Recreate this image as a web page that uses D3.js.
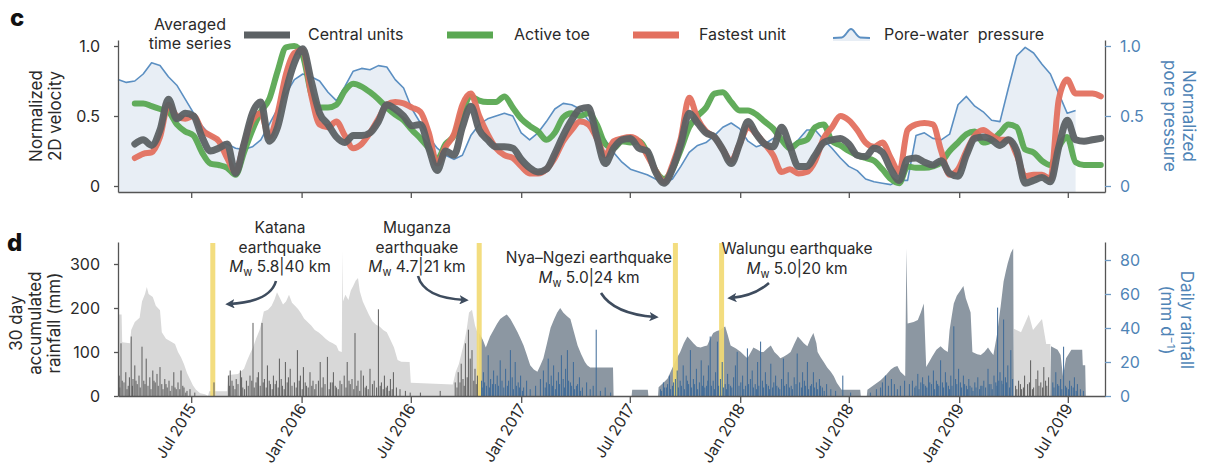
<!DOCTYPE html>
<html>
<head>
<meta charset="utf-8">
<script src="https://cdn.jsdelivr.net/npm/d3@7"></script>
<style>
  body { margin: 0; background: #fff; }
  svg { font-family: Inter, "Noto Sans", "DejaVu Sans", sans-serif; }
</style>
</head>
<body>
<svg id="chart" width="1205" height="471"></svg>
<script>
// ---------- data ----------
// Record starts 1 March 2015; velocity / pore-pressure samples every 14 days.
const recordStart = Date.UTC(2015, 2, 1);
const sampleStepDays = 14;

const tickDates = ["2015-07-01", "2016-01-01", "2016-07-01", "2017-01-01", "2017-07-01",
                   "2018-01-01", "2018-07-01", "2019-01-01", "2019-07-01"];
const tickLabels = ["Jul 2015", "Jan 2016", "Jul 2016", "Jan 2017", "Jul 2017",
                    "Jan 2018", "Jul 2018", "Jan 2019", "Jul 2019"];

// Normalized pore-water pressure
const porePressure = [0.76,0.74,0.75,0.80,0.88,0.86,0.78,0.72,0.62,0.52,0.43,0.36,0.32,0.30,0.27,0.26,0.28,0.33,0.44,0.55,0.66,0.76,0.80,0.78,0.75,0.67,0.61,0.71,0.82,0.84,
  0.83,0.86,0.85,0.76,0.70,0.55,0.45,0.35,0.27,0.22,0.19,0.22,0.36,0.44,0.48,0.50,0.52,0.50,0.38,0.33,0.38,0.46,0.55,0.59,0.58,0.55,0.47,0.40,0.33,
  0.24,0.17,0.12,0.10,0.08,0.05,0.02,0.05,0.14,0.24,0.29,0.31,0.36,0.42,0.45,0.41,0.32,0.28,0.30,0.34,0.33,0.28,0.33,0.40,0.40,0.33,0.27,0.20,0.14,
  0.11,0.05,0.03,0.02,0.01,0.04,0.04,0.36,0.38,0.34,0.33,0.37,0.58,0.64,0.57,0.53,0.47,0.46,0.70,0.93,0.99,0.95,0.87,0.80,0.66,0.52,0.54,null,null,null];

// Normalized 2D velocity, fastest unit
const fastestUnit = [null,null,0.20,0.23,0.24,0.35,0.58,0.50,0.48,0.50,0.40,0.36,0.32,0.20,0.10,0.30,0.47,0.52,0.35,0.52,0.80,0.95,0.97,0.65,0.44,0.42,0.46,0.36,0.27,0.30,
  0.38,0.48,0.58,0.60,0.59,0.56,0.53,0.38,0.16,0.28,0.37,0.58,0.66,0.50,0.37,0.27,0.22,0.20,0.14,0.09,0.09,0.12,0.20,0.32,0.40,0.46,0.44,0.34,0.22,
  0.32,0.34,0.35,0.32,0.22,0.11,0.03,0.15,0.34,0.63,0.48,0.39,0.35,0.26,0.18,0.30,0.42,0.37,0.30,0.22,0.10,0.12,0.09,0.10,0.18,0.34,0.42,0.50,0.47,
  0.40,0.31,0.28,0.31,0.20,0.10,0.40,0.44,0.45,0.44,0.25,0.08,0.12,0.25,0.36,0.40,0.36,0.33,0.33,0.22,0.07,0.08,0.08,0.05,0.62,0.76,0.66,0.66,0.66,0.64];

// Normalized 2D velocity, active toe
const activeToe = [null,null,0.59,0.59,0.57,0.55,0.53,0.44,0.39,0.36,0.24,0.16,0.15,0.13,0.08,0.24,0.40,0.53,0.62,0.82,0.99,1.00,0.93,0.66,0.56,0.56,0.58,0.68,0.73,0.71,
  0.67,0.62,0.56,0.51,0.47,0.40,0.34,0.27,0.19,0.30,0.36,0.53,0.64,0.61,0.60,0.60,0.64,0.56,0.48,0.43,0.39,0.33,0.38,0.49,0.52,0.50,0.52,0.44,0.30,
  0.27,0.32,0.31,0.32,0.24,0.11,0.05,0.12,0.26,0.42,0.50,0.56,0.66,0.67,0.60,0.54,0.54,0.51,0.46,0.41,0.33,0.27,0.31,0.33,0.42,0.44,0.32,0.29,0.25,
  0.22,0.20,0.18,0.12,0.05,0.02,0.14,0.13,0.13,0.14,0.17,0.25,0.31,0.37,0.39,0.31,0.33,0.38,0.44,0.42,0.26,0.24,0.18,0.15,0.28,0.35,0.17,0.15,0.15,0.15];

// Normalized 2D velocity, central units
const centralUnits = [null,null,0.30,0.33,0.29,0.40,0.62,0.48,0.52,0.50,0.35,0.25,0.27,0.30,0.09,0.30,0.52,0.60,0.32,0.42,0.68,0.88,0.98,0.75,0.52,0.44,0.35,0.31,0.36,0.36,
  0.38,0.46,0.58,0.55,0.50,0.43,0.44,0.27,0.11,0.25,0.22,0.42,0.57,0.40,0.33,0.28,0.28,0.27,0.19,0.13,0.10,0.12,0.23,0.36,0.47,0.55,0.56,0.35,0.16,
  0.27,0.33,0.34,0.27,0.25,0.10,0.02,0.12,0.30,0.52,0.45,0.38,0.35,0.26,0.16,0.30,0.46,0.37,0.30,0.28,0.42,0.28,0.14,0.14,0.22,0.31,0.33,0.34,0.30,
  0.22,0.21,0.27,0.24,0.12,0.04,0.19,0.20,0.17,0.15,0.18,0.09,0.07,0.22,0.34,0.35,0.33,0.29,0.33,0.25,0.02,0.04,0.06,0.03,0.28,0.47,0.33,0.32,0.33,0.34];

// 30-day accumulated rainfall [day of record, mm], gauge A (light) and gauge B (slate)
const accumGaugeA = [[0,185],[6,185],[7,122],[20,120],[22,150],[28,168],[36,178],[40,215],[45,232],[48,248],[51,232],[58,225],[63,205],[70,195],[73,145],[80,130],[88,124],[95,118],[100,100],[105,88],[110,72],[115,52],[120,38],[125,24],[130,14],[137,6],[145,4],[150,0],
  [152,11],[182,11],[184,48],[200,50],[210,62],[215,80],[220,96],[225,110],[230,130],[236,150],[240,172],[243,192],[250,196],[256,205],[261,220],[265,236],[270,222],[275,208],[280,215],[285,230],[290,212],[295,205],[300,198],[305,188],[310,176],[316,168],[322,160],[328,150],[334,145],[340,138],[346,130],[352,124],[358,120],[364,115],[368,102],[373,100],[374,330],[375,215],[379,230],[384,218],[388,240],[392,250],[396,262],[400,268],[403,238],[408,215],[413,200],[418,185],[424,170],[430,162],[436,158],[442,150],[448,145],[454,128],[460,110],[466,82],[472,78],[486,77],[488,30],[558,26],[563,55],[568,72],[573,100],[577,122],[581,150],[585,190],[590,196],[595,160],[600,140],[602,0],
  [1492,0],[1493,153],[1505,145],[1518,185],[1525,150],[1540,175],[1547,118],[1554,118],[1555,0]];

const accumGaugeB = [[601,0],[602,143],[608,128],[613,110],[620,135],[626,150],[632,165],[637,175],[642,180],[648,185],[654,175],[660,160],[666,145],[671,130],[676,115],[681,95],[687,70],[693,60],[699,55],[704,70],[709,86],[715,120],[721,155],[727,175],[732,190],[737,200],[742,190],[748,182],[754,175],[760,145],[766,115],[772,95],[778,78],[782,70],[787,65],[825,65],[826,0],
  [856,0],[857,14],[883,14],[884,0],
  [900,0],[901,20],[905,25],[909,30],[916,40],[921,55],[926,70],[931,85],[937,100],[943,120],[949,135],[954,128],[959,120],[965,112],[971,110],[977,113],[982,115],[987,130],[992,143],[998,148],[1004,150],[1008,155],[1012,158],[1016,140],[1021,115],[1030,108],[1038,100],[1044,92],[1049,86],[1054,98],[1059,110],[1066,105],[1072,100],[1076,100],[1082,108],[1088,115],[1094,100],[1100,92],[1104,86],[1110,90],[1116,95],[1121,100],[1127,118],[1133,135],[1138,128],[1143,120],[1149,113],[1154,130],[1159,143],[1164,120],[1166,100],[1171,88],[1176,78],[1182,65],[1188,55],[1193,45],[1198,30],[1204,18],[1206,14],[1237,14],[1238,0],
  [1248,0],[1249,14],[1271,36],[1280,48],[1288,60],[1294,66],[1299,68],[1304,55],[1312,45],[1314,335],[1316,165],[1326,168],[1333,173],[1338,190],[1343,210],[1347,66],[1353,80],[1357,90],[1364,105],[1371,113],[1377,105],[1383,100],[1386,150],[1390,185],[1393,210],[1398,228],[1404,240],[1409,250],[1413,222],[1416,210],[1421,190],[1424,100],[1432,95],[1438,93],[1444,100],[1450,110],[1455,100],[1459,93],[1465,140],[1471,203],[1476,260],[1480,285],[1483,302],[1488,325],[1492,335],[1493,0],
  [1554,0],[1555,113],[1566,105],[1571,93],[1575,45],[1580,86],[1589,105],[1607,105],[1608,70],[1612,70],[1613,0]];

// Daily rainfall [day of record, mm/day]
const dailyGaugeA = [[2,12],[5,31],[10,8],[13,14],[17,6],[22,35],[25,10],[28,18],[32,7],[35,12],[40,29],[43,9],[47,22],[50,6],[53,11],[58,15],[62,8],[65,13],[70,17],[73,7],[78,10],[82,5],[85,9],[90,6],[93,14],[97,4],[100,8],[105,15],[110,5],[115,3],[120,4],[128,2],
  [3,5],[7,9],[15,4],[19,11],[24,6],[30,9],[37,5],[45,7],[55,4],[60,9],[67,6],[75,4],[80,7],[87,3],[95,5],[103,4],[108,6],[113,2],
  [160,8],
  [184,12],[187,15],[192,6],[197,10],[204,15],[208,5],[214,9],[220,12],[225,43],[230,8],[234,14],[240,43],[244,10],[249,18],[254,7],[259,12],[264,9],[269,22],[274,6],[279,20],[284,11],[287,16],[294,8],[299,27],[304,12],[309,17],[314,6],[320,14],[325,9],[330,7],[337,20],[342,11],[349,23],[354,8],[359,14],[364,5],[370,9],[377,12],[382,20],[387,7],[390,10],[395,37],[400,9],[405,15],[409,12],[414,6],[420,16],[427,9],[434,51],[439,8],[444,12],[449,6],[454,10],[459,14],[464,5],[470,4],[479,3],[487,2],[504,2],[537,3],[562,8],[567,14],[572,19],[575,10],[579,31],[584,39],[587,22],[590,27],[595,16],[599,12],
  [186,6],[190,9],[195,4],[200,7],[206,11],[211,4],[217,6],[223,9],[227,5],[232,11],[237,6],[242,8],[247,5],[252,9],[257,4],[262,7],[267,5],[272,10],[277,4],[282,8],[290,6],[297,5],[302,9],[307,4],[312,8],[317,5],[323,6],[328,4],[334,9],[340,5],[345,7],[352,4],[357,8],[362,6],[367,4],[373,7],[380,5],[385,9],[393,4],[398,6],[403,3],[412,5],[417,4],[424,7],[431,5],[437,6],[442,4],[447,5],[452,3],[457,4],[565,5],[570,8],[577,6],[582,11],[593,9],[597,7],
  [1496,6],[1501,9],[1506,4],[1511,12],[1516,7],[1521,21],[1526,5],[1530,10],[1533,15],[1538,8],[1543,17],[1548,6],[1551,11],[1498,4],[1504,7],[1509,5],[1519,8],[1524,4],[1535,6],[1541,5],[1546,9]];

const dailyGaugeB = [[606,9],[609,14],[614,6],[617,24],[621,10],[626,15],[629,7],[632,12],[637,21],[640,9],[646,16],[649,6],[654,27],[657,11],[662,20],[667,8],[671,12],[676,5],[681,9],[687,4],[696,6],[704,10],[709,15],[714,8],[717,22],[722,12],[726,18],[731,9],[734,14],[739,24],[742,10],[746,16],[749,27],[754,8],[759,20],[764,6],[769,11],[774,5],[781,8],[787,4],[792,6],[797,39],[804,3],[812,5],[821,2],
  [607,5],[611,8],[619,5],[624,7],[634,6],[643,5],[651,9],[659,4],[664,6],[669,5],[674,3],[712,5],[719,7],[724,6],[729,4],[736,7],[744,5],[751,9],[756,6],[761,4],[766,7],[771,3],
  [904,4],[909,8],[914,5],[919,12],[924,6],[929,10],[932,15],[937,9],[942,18],[947,12],[951,7],[954,27],[959,10],[964,16],[969,8],[972,21],[976,12],[981,6],[984,18],[987,35],[992,9],[996,14],[999,32],[1004,10],[1007,20],[1012,7],[1016,13],[1021,6],[1026,11],[1029,18],[1032,26],[1038,8],[1041,12],[1046,6],[1049,28],[1054,10],[1057,15],[1062,7],[1066,20],[1071,32],[1074,9],[1079,14],[1084,6],[1088,19],[1093,8],[1096,12],[1101,5],[1106,10],[1109,22],[1114,7],[1117,14],[1122,6],[1127,11],[1132,25],[1136,8],[1141,14],[1144,9],[1149,20],[1154,6],[1159,14],[1164,8],[1169,10],[1174,5],[1181,7],[1188,4],[1196,3],[1208,12],[1221,2],
  [906,3],[911,5],[916,7],[921,4],[926,8],[934,5],[939,6],[944,4],[949,9],[956,5],[961,7],[966,4],[974,6],[978,5],[983,9],[989,6],[994,4],[1001,6],[1009,5],[1014,4],[1018,7],[1023,5],[1035,6],[1043,4],[1051,7],[1059,5],[1064,4],[1068,6],[1076,5],[1081,7],[1086,4],[1091,5],[1098,6],[1103,4],[1111,6],[1119,5],[1124,4],[1130,7],[1139,5],[1146,6],[1151,4],[1156,7],[1161,5],[1166,4],[1171,6],[1177,3],
  [1254,2],[1264,4],[1271,5],[1274,8],[1279,12],[1284,6],[1289,10],[1294,7],[1299,4],[1304,6],[1311,9],[1319,7],[1324,9],[1328,5],[1333,13],[1338,8],[1341,11],[1346,6],[1351,12],[1356,7],[1359,15],[1364,9],[1368,6],[1371,21],[1374,8],[1379,14],[1384,6],[1388,12],[1393,41],[1396,10],[1401,16],[1404,8],[1409,12],[1414,6],[1418,10],[1423,5],[1428,8],[1433,11],[1438,6],[1443,9],[1450,16],[1455,7],[1460,12],[1463,8],[1466,52],[1470,14],[1473,9],[1476,45],[1479,11],[1483,18],[1488,27],[1491,10],
  [1330,6],[1335,4],[1343,7],[1348,5],[1353,8],[1361,4],[1366,7],[1376,5],[1381,8],[1386,4],[1390,6],[1398,7],[1406,5],[1411,7],[1416,4],[1420,6],[1425,3],[1430,5],[1436,4],[1440,6],[1446,5],[1452,7],[1457,4],[1465,6],[1468,9],[1475,7],[1481,8],[1486,5],
  [1558,8],[1563,14],[1568,6],[1571,10],[1576,29],[1581,5],[1586,9],[1589,6],[1594,11],[1599,7],[1604,4],[1609,3],[1560,5],[1566,7],[1573,4],[1579,6],[1584,4],[1592,5],[1597,3]];

// Earthquakes
const quakeNames = ["Katana", "Muganza", "Nya–Ngezi", "Walungu"];
const quakeDates = ["2015-08-06", "2016-10-23", "2017-09-15", "2017-12-01"];
const quakeMagnitudes = ["5.8", "4.7", "5.0", "5.0"];
const quakeDistances = ["40", "21", "24", "20"];

// ---------- helpers ----------
const parseDate = s => new Date(s + "T00:00:00Z");
const dayToDate = d => new Date(recordStart + d * 86400000);
const sampleDate = i => dayToDate(i * sampleStepDays);

const svg = d3.select("#chart");

const x = d3.scaleUtc()
  .domain([new Date(recordStart), new Date(Date.UTC(2019, 8, 1))])
  .range([118, 1105]);

const axisColor = "#555";
const textColor = "#2a2a2a";
const blueText = "#4f84b6";

function styleAxis(g, tickColor, labelColor) {
  g.select(".domain").attr("stroke", axisColor).attr("stroke-width", 1.3);
  g.selectAll(".tick line").attr("stroke", tickColor).attr("stroke-width", 1.3);
  g.selectAll(".tick text").attr("fill", labelColor).attr("font-size", 16)
    .attr("font-family", "Inter, 'Noto Sans', sans-serif");
}

// ================= panel c =================
const yVel = d3.scaleLinear().domain([-6 / 140, 1 + 6 / 140]).range([192, 40]);
const yPore = yVel.copy();

const porePts = porePressure.map((v, i) => ({ date: sampleDate(i), v }));

// pore-pressure shading
svg.append("path")
  .datum(porePts)
  .attr("fill", "#e8eef5")
  .attr("d", d3.area().defined(d => d.v != null)
    .x(d => x(d.date)).y0(192).y1(d => yPore(d.v))
    .curve(d3.curveLinear));

svg.append("path")
  .datum(porePts)
  .attr("fill", "none")
  .attr("stroke", "#5b8fc2")
  .attr("stroke-width", 1.6)
  .attr("stroke-linejoin", "round")
  .attr("d", d3.line().defined(d => d.v != null)
    .x(d => x(d.date)).y(d => yPore(d.v))
    .curve(d3.curveLinear));

const velSeries = [
  { values: activeToe, color: "#5aa852", width: 6 },
  { values: fastestUnit, color: "#e3705f", width: 6 },
  { values: centralUnits, color: "#5c6164", width: 7 }
];
velSeries.forEach(s => {
  const pts = s.values.map((v, i) => ({ date: sampleDate(i), v }));
  svg.append("path")
    .datum(pts)
    .attr("fill", "none")
    .attr("stroke", s.color)
    .attr("stroke-width", s.width)
    .attr("stroke-linejoin", "round")
    .attr("stroke-linecap", "round")
    .attr("opacity", 0.95)
    .attr("d", d3.line().defined(d => d.v != null)
      .x(d => x(d.date)).y(d => yVel(d.v))
      .curve(d3.curveMonotoneX));
});

// axes of panel c
const fmtNorm = d => d === 0 ? "0" : d3.format(".1f")(d);
svg.append("g").attr("transform", "translate(118,0)")
  .call(d3.axisLeft(yVel).tickValues([0, 0.5, 1]).tickFormat(fmtNorm)
    .tickSize(4).tickPadding(14).tickSizeOuter(0))
  .call(g => styleAxis(g, axisColor, textColor));

svg.append("g").attr("transform", "translate(1105,0)")
  .call(d3.axisRight(yPore).tickValues([0, 0.5, 1]).tickFormat(fmtNorm)
    .tickSize(6).tickPadding(9).tickSizeOuter(0))
  .call(g => styleAxis(g, "#6f9ac4", blueText));

svg.append("g").attr("transform", "translate(0,192)")
  .call(d3.axisBottom(x).tickValues(tickDates.map(parseDate)).tickFormat("")
    .tickSize(6).tickSizeOuter(0))
  .call(g => styleAxis(g, axisColor, textColor));

// legend
const legend = svg.append("g").attr("font-size", 16).attr("fill", textColor);
legend.append("text").attr("x", 190).attr("y", 30).attr("text-anchor", "middle").text("Averaged");
legend.append("text").attr("x", 190).attr("y", 49).attr("text-anchor", "middle").text("time series");
const legendItems = [
  { label: "Central units", color: "#5c6164", x0: 244, tx: 308 },
  { label: "Active toe", color: "#5aa852", x0: 447, tx: 514 },
  { label: "Fastest unit", color: "#e3705f", x0: 633, tx: 699 }
];
legendItems.forEach(it => {
  legend.append("line").attr("x1", it.x0).attr("x2", it.x0 + 46)
    .attr("y1", 35).attr("y2", 35)
    .attr("stroke", it.color).attr("stroke-width", 7);
  legend.append("text").attr("x", it.tx).attr("y", 40).text(it.label);
});
legend.append("path")
  .attr("d", "M833,38 L842,37.5 C846,36 848,29 851,29 C854,29 856,36 860,37.5 L870,38 L870,41 L833,41 Z")
  .attr("fill", "#e8eef5");
legend.append("path")
  .attr("d", "M833,38 L842,37.5 C846,36 848,29 851,29 C854,29 856,36 860,37.5 L870,38")
  .attr("fill", "none").attr("stroke", "#5b8fc2").attr("stroke-width", 1.8);
legend.append("text").attr("x", 884).attr("y", 40).attr("xml:space", "preserve").text("Pore-water  pressure");

// axis titles of panel c
svg.append("text")
  .attr("transform", "translate(42,116) rotate(-90)")
  .attr("text-anchor", "middle").attr("font-size", 17).attr("fill", textColor)
  .call(t => {
    t.append("tspan").attr("x", 0).attr("dy", 0).text("Normalized");
    t.append("tspan").attr("x", 0).attr("dy", 19).text("2D velocity");
  });
svg.append("text")
  .attr("transform", "translate(1183,116) rotate(90)")
  .attr("text-anchor", "middle").attr("font-size", 17).attr("fill", blueText)
  .call(t => {
    t.append("tspan").attr("x", 0).attr("dy", 0).text("Normalized");
    t.append("tspan").attr("x", 0).attr("dy", 19).text("pore pressure");
  });

svg.append("text").attr("x", 10).attr("y", 26).attr("font-size", 24)
  .attr("font-weight", 800).attr("fill", "#111").text("c");

// ================= panel d =================
const yAcc = d3.scaleLinear().domain([0, 350]).range([396, 242]);
const yDaily = d3.scaleLinear().domain([0, 154 / 1.7]).range([396, 242]);

const accArea = d3.area()
  .x(d => x(dayToDate(d[0]))).y0(396).y1(d => yAcc(d[1]))
  .curve(d3.curveLinear);

svg.append("path").datum(accumGaugeA).attr("fill", "#d8d8d8").attr("d", accArea);
svg.append("path").datum(accumGaugeB).attr("fill", "#8c97a2").attr("d", accArea);

// earthquake markers
quakeDates.forEach(d => {
  svg.append("rect")
    .attr("x", x(parseDate(d)) - 2.5).attr("y", 243)
    .attr("width", 5).attr("height", 396 - 243)
    .attr("fill", "#f2da74").attr("opacity", 0.92);
});

// daily rainfall bars
function dailyBars(data, color) {
  svg.append("g").selectAll("rect").data(data).join("rect")
    .attr("x", d => x(dayToDate(d[0])) - 0.5)
    .attr("y", d => yDaily(d[1]))
    .attr("width", 1)
    .attr("height", d => 396 - yDaily(d[1]))
    .attr("fill", color);
}
dailyBars(dailyGaugeA, "#5e5e5e");
dailyBars(dailyGaugeB, "#3d6a98");

// axes of panel d
svg.append("g").attr("transform", "translate(118,0)")
  .call(d3.axisLeft(yAcc).tickValues([0, 100, 200, 300])
    .tickSize(4).tickPadding(14).tickSizeOuter(0))
  .call(g => styleAxis(g, axisColor, textColor));

svg.append("g").attr("transform", "translate(1105,0)")
  .call(d3.axisRight(yDaily).tickValues([0, 20, 40, 60, 80])
    .tickSize(6).tickPadding(9).tickSizeOuter(0))
  .call(g => styleAxis(g, "#6f9ac4", blueText));

const xAxisD = svg.append("g").attr("transform", "translate(0,396)")
  .call(d3.axisBottom(x).tickValues(tickDates.map(parseDate))
    .tickFormat((d, i) => tickLabels[i]).tickSize(7).tickSizeOuter(0))
  .call(g => styleAxis(g, axisColor, textColor));
xAxisD.selectAll(".tick text")
  .attr("text-anchor", "end")
  .attr("font-size", 15.5)
  .attr("dy", 0)
  .attr("y", 0)
  .attr("transform", "translate(5,12) rotate(-58)");

// axis titles of panel d
svg.append("text")
  .attr("transform", "translate(22,323) rotate(-90)")
  .attr("text-anchor", "middle").attr("font-size", 17).attr("fill", textColor)
  .call(t => {
    t.append("tspan").attr("x", 0).attr("dy", 0).text("30 day");
    t.append("tspan").attr("x", 0).attr("dy", 19).text("accumulated");
    t.append("tspan").attr("x", 0).attr("dy", 19).text("rainfall (mm)");
  });
svg.append("text")
  .attr("transform", "translate(1181,320) rotate(90)")
  .attr("text-anchor", "middle").attr("font-size", 17).attr("fill", blueText)
  .call(t => {
    t.append("tspan").attr("x", 0).attr("dy", 0).text("Daily rainfall");
    t.append("tspan").attr("x", 0).attr("dy", 20).text("(mm d");
    t.append("tspan").attr("dy", -6).attr("font-size", 11).text("−1");
    t.append("tspan").attr("dy", 6).text(")");
  });

svg.append("text").attr("x", 7).attr("y", 251).attr("font-size", 24)
  .attr("font-weight", 800).attr("fill", "#111").text("d");

// earthquake annotations
const defs = svg.append("defs");
defs.append("marker").attr("id", "arrowhead")
  .attr("viewBox", "0 0 10 10").attr("refX", 6).attr("refY", 5)
  .attr("markerWidth", 3.6).attr("markerHeight", 3.6)
  .attr("orient", "auto-start-reverse")
  .append("path").attr("d", "M0,0 L10,5 L0,10 L2.5,5 Z").attr("fill", "#3e4c5e");

const annot = [
  { lines: [quakeNames[0], "earthquake"], cx: 280, y0: 233, arrow: "M276,281 Q270,302 229,304" },
  { lines: [quakeNames[1], "earthquake"], cx: 417, y0: 233, arrow: "M418,276 Q424,298 465,300" },
  { lines: [quakeNames[2] + " earthquake"], cx: 589, y0: 263, arrow: "M601,293 Q614,314 655,317" },
  { lines: [quakeNames[3] + " earthquake"], cx: 797, y0: 254, arrow: "M769,283 Q754,296 731,298" }
];
annot.forEach((a, k) => {
  const g = svg.append("g").attr("font-size", 15.5).attr("fill", textColor).attr("text-anchor", "middle");
  a.lines.forEach((ln, j) => {
    g.append("text").attr("x", a.cx).attr("y", a.y0 + j * 19.5).text(ln);
  });
  const t = g.append("text").attr("x", a.cx).attr("y", a.y0 + a.lines.length * 19.5);
  t.append("tspan").attr("font-style", "italic").text("M");
  t.append("tspan").attr("font-size", 11).attr("dy", 4).text("w");
  t.append("tspan").attr("dy", -4).text(" " + quakeMagnitudes[k] + "|" + quakeDistances[k] + " km");
  svg.append("path").attr("d", a.arrow)
    .attr("fill", "none").attr("stroke", "#3e4c5e").attr("stroke-width", 2.6)
    .attr("marker-end", "url(#arrowhead)");
});
</script>
</body>
</html>
